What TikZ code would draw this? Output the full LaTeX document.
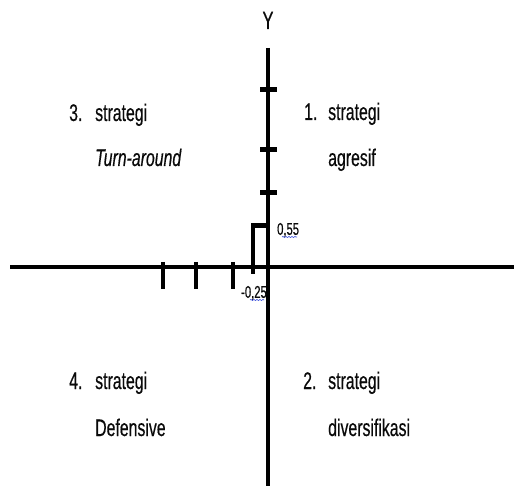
\documentclass[tikz,border=0pt]{standalone}
\usepackage{fontspec}
\setmainfont{Liberation Sans}[FakeStretch=0.66, FakeBold=0.4]
\usetikzlibrary{positioning, decorations.pathmorphing}
\definecolor{inkgray}{RGB}{10,10,10}
\definecolor{spellblue}{RGB}{60,80,220}
\tikzstyle{quad}  = [anchor=base west, inner sep=0pt, font=\fontsize{24}{26}\selectfont, text=inkgray]
\tikzstyle{small} = [inner sep=0pt, font=\fontsize{17}{19}\selectfont, text=inkgray]
\tikzstyle{axis}  = [line width=4.5pt, draw=black]

\begin{document}
\begin{tikzpicture}[
  x=1pt, y=-1pt,
  vaxis/.style={line width=3.5pt, draw=black},
  htick/.style={line width=5pt, draw=black},
  vtick/.style={line width=3.5pt, draw=black},
  squig/.style={draw=spellblue, line width=0.6pt,
                decorate, decoration={snake, amplitude=0.6pt, segment length=3pt}}
]
\useasboundingbox (0,0) rectangle (514,486);
% axes
\coordinate (xl) at (10,267);
\coordinate (xr) at (514,267);
\coordinate (yt) at (268,48);
\coordinate (yb) at (268,486);
\node[anchor=base, inner sep=0pt, font=\fontsize{25}{27}\selectfont, text=inkgray] (ylab) at (268,29) {Y};
\draw[axis] (xl)--(xr);
\draw[vaxis] (yt)--(yb);
% ticks on Y
\foreach \ty [count=\i] in {90,150,193}{
  \coordinate (ta\i) at (260,\ty); \coordinate (tb\i) at (277,\ty);
  \draw[htick] (ta\i)--(tb\i);
}
% ticks on X
\foreach \tx [count=\i] in {163,196,233}{
  \coordinate (ua\i) at (\tx,262); \coordinate (ub\i) at (\tx,289);
  \draw[vtick] (ua\i)--(ub\i);
}
% point (-0,25 ; 0,55)
\coordinate (px) at (253,274);
\coordinate (pc) at (253,226);
\coordinate (py) at (268,226);
\draw[vtick] (px)--(pc);
\draw[htick] ([xshift=-1.75pt]pc)--(py);
\node[small, anchor=west] (v55) at (277,230) {0,55};
\node[small] (v25) at (254,293) {-0,25};
\draw[squig] (282,237)--(297,237);
\draw[squig] (250,300)--(264,300);
% quadrant labels
\node[quad] (n3) at (69,121) {3.};
\node[quad] (s3) at (95,121) {strategi};
\node[quad] (t3) at (95,166) {\textit{Turn-around}};
\node[quad] (n1) at (304,120) {1.};
\node[quad] (s1) at (328,120) {strategi};
\node[quad] (t1) at (328,166) {agresif};
\node[quad] (n4) at (69,389) {4.};
\node[quad] (s4) at (95,389) {strategi};
\node[quad] (t4) at (95,436) {Defensive};
\node[quad] (n2) at (303,389) {2.};
\node[quad] (s2) at (328,389) {strategi};
\node[quad] (t2) at (328,436) {diversifikasi};
\end{tikzpicture}
\end{document}
